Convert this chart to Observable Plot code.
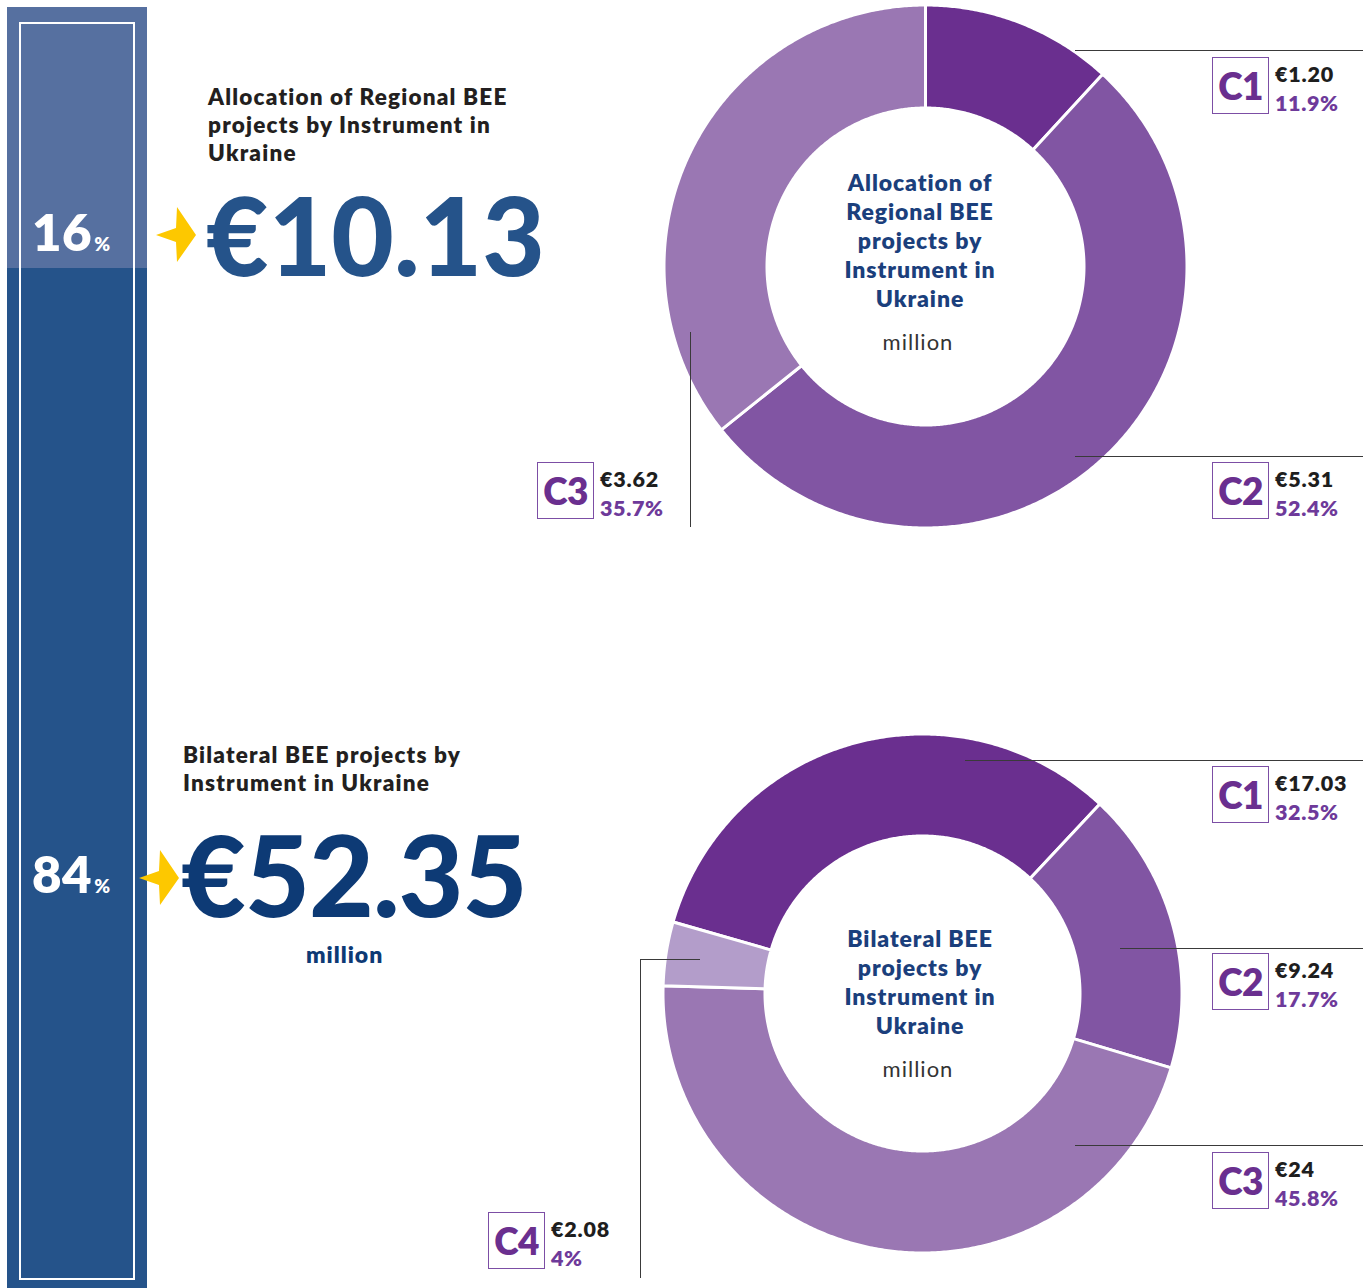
<!DOCTYPE html>
<html><head><meta charset="utf-8">
<script src="https://cdn.jsdelivr.net/npm/d3@7"></script>
<script src="https://cdn.jsdelivr.net/npm/@observablehq/plot@0.6"></script>
<style>
body{margin:0;background:#fff;font-family:Lato,"Open Sans",sans-serif;}
#page{position:relative;width:1370px;height:1288px;overflow:hidden;}
.abs{position:absolute;white-space:nowrap;}
.box{position:absolute;width:55px;height:55px;border:1.5px solid #7c4ea5;color:#6a2f8f;font-weight:800;font-size:37px;line-height:55px;text-align:center;letter-spacing:-0.5px;}
.val{position:absolute;font-weight:800;font-size:21.5px;color:#1e1e1e;line-height:22px;letter-spacing:0.8px;white-space:nowrap;}
.pct{position:absolute;font-weight:800;font-size:21.5px;color:#6e3a9a;line-height:22px;letter-spacing:0.6px;white-space:nowrap;}
.hline{position:absolute;height:1px;background:#3a3a3a;}
.vline{position:absolute;width:1px;background:#3a3a3a;}
.ctr{position:absolute;text-align:center;color:#1b3f7c;font-weight:800;font-size:23px;line-height:29px;letter-spacing:0.9px;}
.mil{position:absolute;text-align:center;color:#333;font-weight:400;font-size:22px;letter-spacing:1px;}
.heading{position:absolute;font-weight:800;font-size:22.5px;line-height:28px;color:#231f20;letter-spacing:1.2px;white-space:nowrap;}
</style></head><body><div id="page"></div>
<script>
// ---- data ----
const regionalInstruments = ["C1", "C2", "C3"];
const regionalValues = [1.20, 5.31, 3.62];
const regionalValueLabels = ["€1.20", "€5.31", "€3.62"];
const regionalShares = ["11.9%", "52.4%", "35.7%"];
const regionalTotal = "€10.13";
const regionalSharePct = "16";
const regionalTitle = ["Allocation of Regional BEE", "projects by Instrument in", "Ukraine"];
const regionalCenter = ["Allocation of", "Regional BEE", "projects by", "Instrument in", "Ukraine"];

const bilateralInstruments = ["C1", "C2", "C3", "C4"];
const bilateralValues = [17.03, 9.24, 24, 2.08];
const bilateralValueLabels = ["€17.03", "€9.24", "€24", "€2.08"];
const bilateralShares = ["32.5%", "17.7%", "45.8%", "4%"];
const bilateralTotal = "€52.35";
const bilateralSharePct = "84";
const bilateralTitle = ["Bilateral BEE projects by", "Instrument in Ukraine"];
const bilateralCenter = ["Bilateral BEE", "projects by", "Instrument in", "Ukraine"];

const unitLabel = "million";
const instrumentColors = ["#6a2f8f", "#8155a3", "#9a77b3", "#b39dca"];

// ---- layout ----
const page = document.getElementById("page");
function el(cls, style, text){
  const d = document.createElement("div");
  d.className = cls; Object.assign(d.style, style);
  if (text != null) d.textContent = text;
  page.appendChild(d); return d;
}

// left panel
el("abs", {left:"7px", top:"7px", width:"140px", height:"261px", background:"#5670a0"});
el("abs", {left:"7px", top:"268px", width:"140px", height:"1020px", background:"#25538a"});
el("abs", {left:"19px", top:"22px", width:"112px", height:"1254px", border:"2px solid #fff"});

function pctLabel(val, top){
  const d = el("abs", {left:"32px", top:top+"px", color:"#fff", fontWeight:"800", fontSize:"51px", lineHeight:"50px", letterSpacing:"0.5px"});
  const a = document.createElement("span"); a.textContent = val; d.appendChild(a);
  const b = document.createElement("span"); b.textContent = "%"; b.style.fontSize = "19px"; b.style.marginLeft="2px"; d.appendChild(b);
}
pctLabel(regionalSharePct, 207);
pctLabel(bilateralSharePct, 849);

// arrows
function arrow(x, y){
  const ns = "http://www.w3.org/2000/svg";
  const s = document.createElementNS(ns, "svg");
  s.setAttribute("width", 42); s.setAttribute("height", 58);
  s.style.position = "absolute"; s.style.left = (x) + "px"; s.style.top = (y) + "px";
  const p = document.createElementNS(ns, "polygon");
  p.setAttribute("points", "0,29 20,22 21,1 40,29 21,56 20,36");
  p.setAttribute("fill", "#fdc800");
  s.appendChild(p); page.appendChild(s);
}
arrow(156, 206);
arrow(139, 849);

// headings
el("heading", {left:"208px", top:"83px"}).innerHTML = regionalTitle.join("<br>");
el("heading", {left:"183px", top:"741px"}).innerHTML = bilateralTitle.join("<br>");

el("abs", {left:"206px", top:"180px", fontSize:"108px", fontWeight:"900", color:"#25538a", letterSpacing:"0px", lineHeight:"108px"}, regionalTotal);
el("abs", {left:"181px", top:"820px", fontSize:"112px", fontWeight:"900", color:"#0d3a75", letterSpacing:"-1px", lineHeight:"108px"}, bilateralTotal);
el("abs", {left:"306px", top:"942px", fontSize:"23px", fontWeight:"800", color:"#0d3a75", letterSpacing:"1px", lineHeight:"24px"}, unitLabel);

// ---- donuts ----
function donutPoints(names, values, startDeg, inner){
  const a0 = startDeg * Math.PI / 180;
  const arcs = d3.pie().sort(null).startAngle(a0).endAngle(a0 + 2 * Math.PI)(values);
  const pts = [];
  arcs.forEach((p, i) => {
    const n = Math.max(6, Math.ceil((p.endAngle - p.startAngle) / 0.008));
    const ring = [];
    for (let k = 0; k <= n; k++) { const a = p.startAngle + (p.endAngle - p.startAngle) * k / n; ring.push([Math.sin(a), Math.cos(a)]); }
    for (let k = n; k >= 0; k--) { const a = p.startAngle + (p.endAngle - p.startAngle) * k / n; ring.push([Math.sin(a) * inner, Math.cos(a) * inner]); }
    ring.push(ring[0]);
    ring.forEach(([x, y]) => pts.push({instrument: names[i], x, y}));
  });
  return pts;
}

function drawDonut(cfg, names, values){
  const {left, top, width, height, cx, cy, R, r, start} = cfg;
  const pts = donutPoints(names, values, start, r / R);
  const chart = Plot.plot({
    width, height, margin: 0,
    x: {domain: [(left - cx) / R, (left + width - cx) / R], axis: null},
    y: {domain: [(cy - top - height) / R, (cy - top) / R], axis: null},
    color: {domain: names, range: instrumentColors.slice(0, names.length)},
    marks: [
      Plot.line(pts, {x: "x", y: "y", z: "instrument", fill: "instrument", stroke: "white", strokeWidth: 3, strokeLinejoin: "round"})
    ]
  });
  chart.style.position = "absolute";
  chart.style.left = left + "px";
  chart.style.top = top + "px";
  chart.style.background = "transparent";
  page.appendChild(chart);
}

drawDonut({left: 600, top: 0, width: 650, height: 535, cx: 925, cy: 266, R: 261.5, r: 158.5, start: 0}, regionalInstruments, regionalValues);
drawDonut({left: 600, top: 725, width: 650, height: 540, cx: 922, cy: 993, R: 259.5, r: 157.5, start: -74}, bilateralInstruments, bilateralValues);

// center texts
el("ctr", {left:"770px", width:"300px", top:"168px"}).innerHTML = regionalCenter.join("<br>");
el("mil", {left:"770px", width:"296px", top:"328px"}, unitLabel);
el("ctr", {left:"770px", width:"300px", top:"924px"}).innerHTML = bilateralCenter.join("<br>");
el("mil", {left:"770px", width:"296px", top:"1055px"}, unitLabel);

// leader lines
const hlines = [[1075,1363,50],[1075,1363,456],[965,1363,760],[1120,1363,948],[1075,1363,1145],[640,700,959]];
hlines.forEach(([x0,x1,y]) => el("hline", {left:x0+"px", top:y+"px", width:(x1-x0)+"px"}));
const vlines = [[690,332,527],[640,959,1278]];
vlines.forEach(([x,y0,y1]) => el("vline", {left:x+"px", top:y0+"px", height:(y1-y0)+"px"}));

// labels
function label(name, valText, pctText, bx, by){
  el("box", {left:bx+"px", top:by+"px"}, name);
  el("val", {left:(bx+63)+"px", top:(by+6)+"px"}, valText);
  el("pct", {left:(bx+63)+"px", top:(by+35)+"px"}, pctText);
}
const regionalBoxes = [[1212,57],[1212,462],[537,462]];
regionalInstruments.forEach((n,i) => label(n, regionalValueLabels[i], regionalShares[i], ...regionalBoxes[i]));
const bilateralBoxes = [[1212,766],[1212,953],[1212,1152],[488,1212]];
bilateralInstruments.forEach((n,i) => label(n, bilateralValueLabels[i], bilateralShares[i], ...bilateralBoxes[i]));
</script></body></html>
